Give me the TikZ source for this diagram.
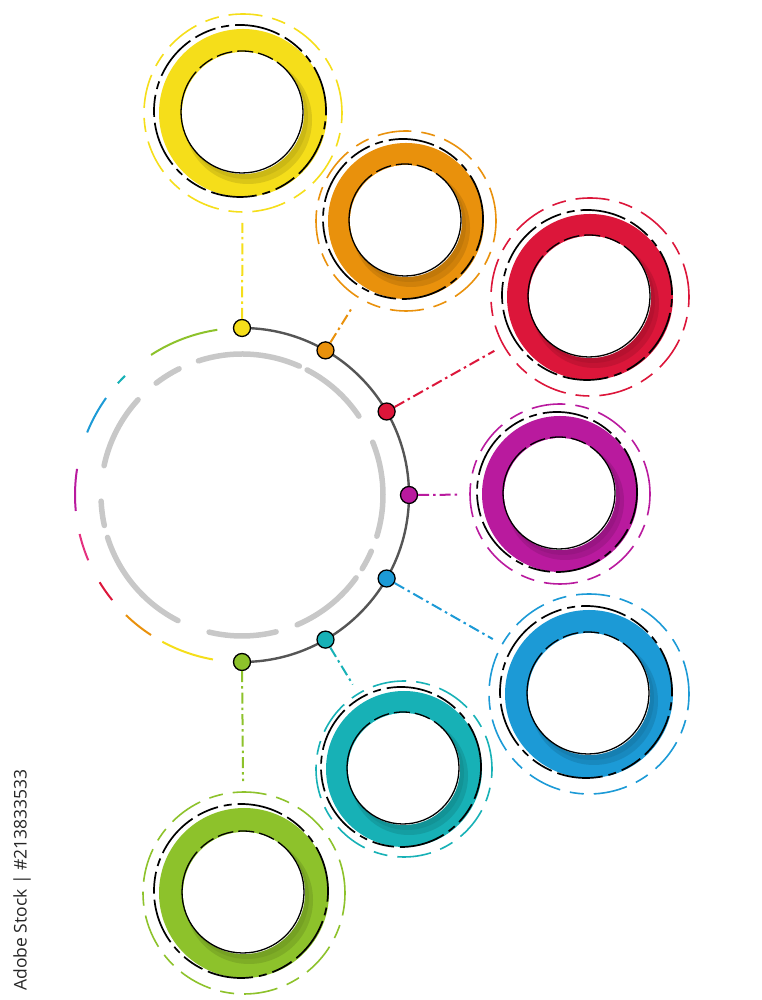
\documentclass[tikz,border=0pt]{standalone}
\usepackage{fontspec}
\setsansfont{Open Sans}
\definecolor{cYellow}{HTML}{F5DE1A}
\definecolor{cOrange}{HTML}{E9910C}
\definecolor{cRed}{HTML}{DC163A}
\definecolor{cMagenta}{HTML}{B91A9E}
\definecolor{cPink}{HTML}{E4307F}
\definecolor{cBlue}{HTML}{1C9AD6}
\definecolor{cTeal}{HTML}{17B1B6}
\definecolor{cGreen}{HTML}{8DC22B}
\definecolor{hubline}{HTML}{555555}
\definecolor{hubgap}{HTML}{C8C8C8}
\tikzset{
  outring/.style={circle, inner sep=0pt, line width=1.6pt, dash pattern=on 34pt off 10pt on 14pt off 10pt},
  blackring/.style={line width=1.7pt, dash pattern=on 46pt off 6pt on 8pt off 6pt on 22pt off 6pt},
  link/.style={line width=2pt, dash pattern=on 11pt off 4pt on 2.5pt off 4pt, shorten >=10pt},
  dot/.style={circle, draw=black, line width=1.3pt, minimum size=17pt, inner sep=0pt},
  hubdash/.style={line width=5.5pt, draw=hubgap, line cap=round},
  leftdash/.style={line width=2pt},
}

\begin{document}
\begin{tikzpicture}[x=1pt,y=1pt]
\useasboundingbox (0,0) rectangle (761,1000);
\coordinate (O) at (242,505);

% grey dashes of the hub
\foreach \a/\b in {66/108, 34/62.5, -17/22, -31.5/-23.5, -67/-36, -103.5/-76, -162.5/-117, -177.5/-167.5, 137.5/168, 116.5/127.5}
  \draw[hubdash] ([shift={(\a:141)}]O) arc (\a:\b:141);

% coloured arcs on the left
\foreach \a/\b/\col in {98.5/123/cGreen, 134.5/138/cTeal, 144.5/158/cBlue, 171/185.5/cMagenta, 193.5/203/cPink, 211.5/219/cRed, 226/237/cOrange, 241.5/260/cYellow}
  \draw[leftdash, \col] ([shift={(\a:167)}]O) arc (\a:\b:167);

% dark arc on the right
\draw[line width=2.4pt, hubline] ([shift={(90:167)}]O) arc (90:-90:167);

% satellites, their dots and links
\foreach \n/\sx/\sy/\col/\R/\r/\o/\ang in {yel/243/887/cYellow/84/61/99/90, ora/406/779/cOrange/78/56/90/60, red/590/703/cRed/83/61/99/30, mag/560/506/cMagenta/78/56/90/0, blu/589/306/cBlue/84/61/100/-30, tea/404/231/cTeal/78/56/88/-60, gre/244/107/cGreen/85/61/101/-90}{
  \fill[\col] (\sx,\sy) circle (\R);
  \fill[\col!65!black, opacity=.3] (\sx+5,\sy-7) circle (\r+3);
  \fill[\col!65!black, opacity=.25] (\sx+3,\sy-4) circle (\r+1);
  \fill[white] (\sx,\sy) circle (\r);
  \draw[line width=1.3pt] (\sx-1,\sy+1) ++(140:\r) arc (140:400:\r);
  \draw[line width=1.3pt, dash pattern=on 16pt off 5pt] (\sx-1,\sy+1) ++(40:\r) arc (40:140:\r);
  \draw[blackring] (\sx-3,\sy+2) circle (\R+2);
  \node[outring, draw=\col, minimum size=2*\o] (s\n) at (\sx,\sy) {};
  \node[dot, fill=\col] (d\n) at ([shift={(\ang:167)}]O) {};
  \draw[link, \col] (d\n) -- (s\n);
}

\node[rotate=90, font=\sffamily\fontsize{17.5}{17.5}\selectfont, text=black!85] (stock) at (22,120) {Adobe Stock | \#213833533};
\end{tikzpicture}
\end{document}
